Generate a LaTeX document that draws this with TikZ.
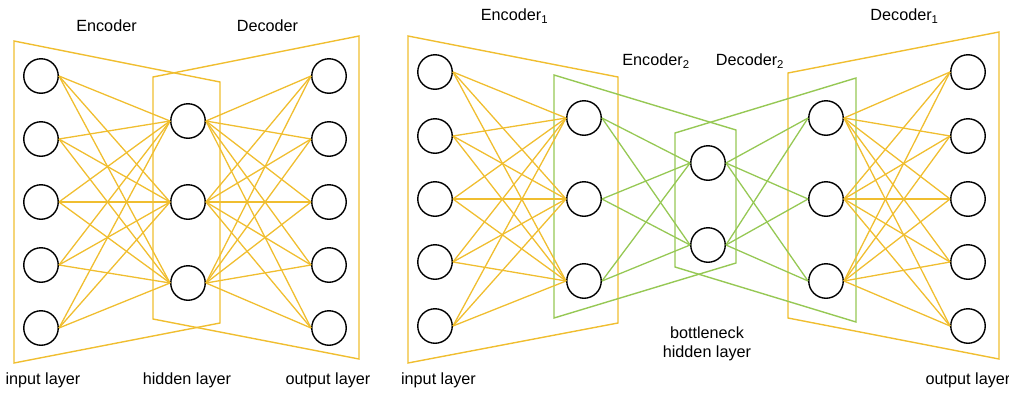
\documentclass[tikz,border=0pt]{standalone}
\usepackage{fontspec}
\setmainfont{Liberation Sans}
\definecolor{ylw}{RGB}{240,190,48}
\definecolor{grn}{RGB}{150,200,84}
\begin{document}
\begin{tikzpicture}[x=1pt,y=-1pt,
  neuron/.style={circle,draw=black,line width=1.4pt,minimum size=34.5pt,inner sep=0pt,fill=white},
  ylink/.style={draw=ylw,line width=1.3pt},
  glink/.style={draw=grn,line width=1.3pt},
  ybox/.style={draw=ylw,line width=1.4pt},
  gbox/.style={draw=grn,line width=1.4pt},
  lbl/.style={font=\fontsize{16.2}{19}\selectfont,anchor=base,inner sep=0pt}]
\useasboundingbox (0,0) rectangle (1009,394);
% ---------- left network ----------
\draw[ybox] (14,41) -- (220,82) -- (220,323) -- (14,363) -- cycle;
\draw[ybox] (153,77) -- (359,36) -- (359,359) -- (153,319) -- cycle;
\foreach \k/\y in {1/76,2/139,3/202,4/265,5/328}{
  \node[neuron] (i\k) at (41,\y) {};
  \node[neuron] (o\k) at (329,\y) {};
}
\foreach \k/\y in {1/121,2/202,3/283}{
  \node[neuron] (h\k) at (188,\y) {};
}
\foreach \a in {1,...,5}{\foreach \b in {1,2,3}{
  \draw[ylink] (i\a.east) -- (h\b.west);
  \draw[ylink] (h\b.east) -- (o\a.west);
}}
\node[lbl] (tenc) at (106.5,31.5) {Encoder};
\node[lbl] (tdec) at (267.5,31.5) {Decoder};
\node[lbl] (tin) at (43,384.5) {input layer};
\node[lbl] (thid) at (187,384.5) {hidden layer};
\node[lbl] (tout) at (328,384.5) {output layer};
% ---------- right network ----------
\draw[ybox] (408,36) -- (618,77) -- (618,323) -- (408,363) -- cycle;
\draw[ybox] (788,73) -- (999,32) -- (999,359) -- (788,318) -- cycle;
\draw[gbox] (554,75) -- (736,130) -- (736,263) -- (554,318) -- cycle;
\draw[gbox] (675,133) -- (856,78) -- (856,322) -- (675,267) -- cycle;
\foreach \k/\y in {1/72,2/136,3/199,4/262,5/326}{
  \node[neuron] (I\k) at (435,\y) {};
  \node[neuron] (O\k) at (968,\y) {};
}
\foreach \k/\y in {1/118,2/199,3/281}{
  \node[neuron] (A\k) at (584,\y) {};
  \node[neuron] (C\k) at (826,\y) {};
}
\foreach \k/\y in {1/163,2/245}{
  \node[neuron] (B\k) at (708,\y) {};
}
\foreach \a in {1,...,5}{\foreach \b in {1,2,3}{
  \draw[ylink] (I\a.east) -- (A\b.west);
  \draw[ylink] (C\b.east) -- (O\a.west);
}}
\foreach \a in {1,2,3}{\foreach \b in {1,2}{
  \draw[glink] (A\a.east) -- (B\b.west);
  \draw[glink] (B\b.east) -- (C\a.west);
}}
\node[lbl] (tenc1) at (514.5,20.5) {Encoder\textsubscript{1}};
\node[lbl] (tenc2) at (656,65.5) {Encoder\textsubscript{2}};
\node[lbl] (tdec2) at (750,65.5) {Decoder\textsubscript{2}};
\node[lbl] (tdec1) at (904.5,20.5) {Decoder\textsubscript{1}};
\node[lbl] (tbot1) at (707,338) {bottleneck};
\node[lbl] (tbot2) at (707,357) {hidden layer};
\node[lbl] (tin2) at (438.5,384.5) {input layer};
\node[lbl] (tout2) at (968,384.5) {output layer};
\end{tikzpicture}
\end{document}
